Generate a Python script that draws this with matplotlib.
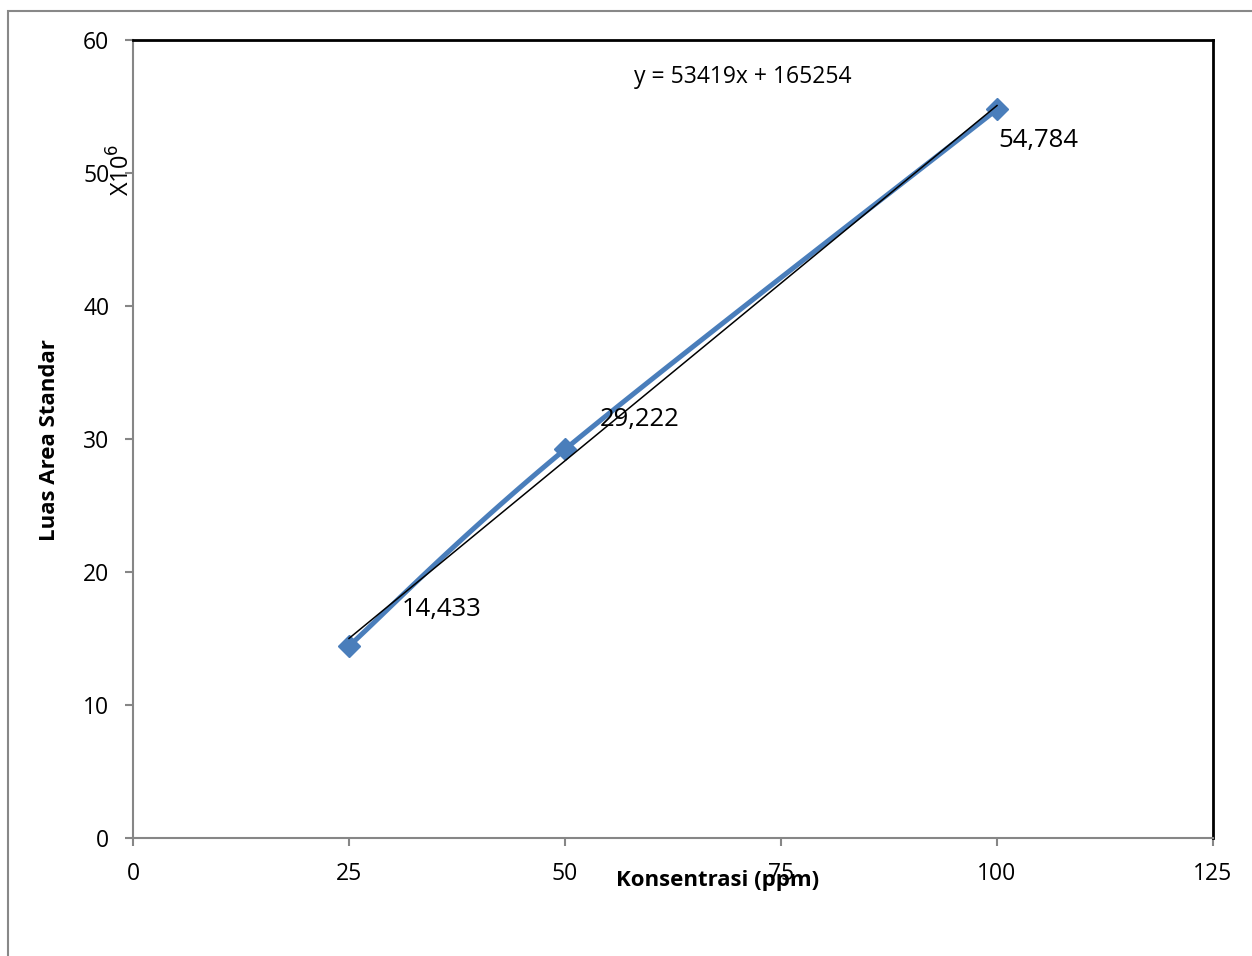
import numpy as np
import matplotlib
matplotlib.use("Agg")
import matplotlib.pyplot as plt
from matplotlib.patches import Rectangle

# data (luas area in units of 10^6)
konsentrasi = [25, 50, 100]
luas_area = [14.433, 29.222, 54.784]
label_offsets = [(53, 37), (35, 30), (1, -31)]

plt.rcParams['font.family'] = ['Open Sans', 'DejaVu Sans']

fig = plt.figure(figsize=(12.52, 9.56), dpi=100)
ax = fig.add_axes([133 / 1252, 1 - 838 / 956, 1080 / 1252, 798 / 956])

# smooth line like Excel (bezier with catmull-rom control points)
pts = np.column_stack([konsentrasi, luas_area])
ext = np.vstack([pts[0], pts, pts[-1]])
curve = []
t = np.linspace(0, 1, 60)[:, None]
for i in range(1, len(ext) - 2):
    p0, p1, p2, p3 = ext[i - 1], ext[i], ext[i + 1], ext[i + 2]
    c1 = p1 + (p2 - p0) / 6
    c2 = p2 - (p3 - p1) / 6
    seg = ((1 - t) ** 3) * p1 + 3 * ((1 - t) ** 2) * t * c1 + 3 * (1 - t) * t ** 2 * c2 + t ** 3 * p2
    curve.append(seg)
curve = np.vstack(curve)

blue = '#4A7EBB'
ax.plot(curve[:, 0], curve[:, 1], color=blue, lw=3.6, solid_capstyle='butt', zorder=2)
ax.plot(konsentrasi, luas_area, ls='none', marker='D', ms=11, color=blue, zorder=3)

# linear trendline
slope, intercept = np.polyfit(konsentrasi, luas_area, 1)
xs = np.array([konsentrasi[0], konsentrasi[-1]])
ax.plot(xs, slope * xs + intercept, color='black', lw=1.1, zorder=4)

for xv, yv, (dx, dy) in zip(konsentrasi, luas_area, label_offsets):
    ax.annotate(f"{yv:.3f}".replace('.', ','), (xv, yv), xytext=(dx, dy),
                textcoords='offset pixels', ha='left', va='center', fontsize=18.5)

ax.text(70.6, 57.2, "y = 53419x + 165254", ha='center', va='center', fontsize=16.5)

ax.set_xlim(0, 125)
ax.set_ylim(0, 60)
ax.set_xticks([0, 25, 50, 75, 100, 125])
ax.set_yticks([0, 10, 20, 30, 40, 50, 60])
ax.tick_params(direction='out', length=6, width=1.5, color='#868686', labelsize=16.5, pad=11)

for s in ['left', 'bottom']:
    ax.spines[s].set_color('#868686')
    ax.spines[s].set_linewidth(1.5)
for s in ['top', 'right']:
    ax.spines[s].set_color('black')
    ax.spines[s].set_linewidth(2)

ax.set_xlabel("Konsentrasi (ppm)", fontsize=16, fontweight='bold')
ax.xaxis.set_label_coords(0.5417, -0.04)
ax.set_ylabel("Luas Area Standar", fontsize=16, fontweight='bold')
ax.yaxis.set_label_coords(-0.068, 0.499)
ax.text(-0.0102, 0.837, "X10$^6$", transform=ax.transAxes, rotation=90,
        ha='center', va='center', fontsize=17)

fig.patches.append(Rectangle((8 / 1252, -0.2), 1.5, 1.2 - 11 / 956, transform=fig.transFigure,
                             fill=False, edgecolor='#888888', lw=1.5))

fig.savefig("out.png", dpi=100)
